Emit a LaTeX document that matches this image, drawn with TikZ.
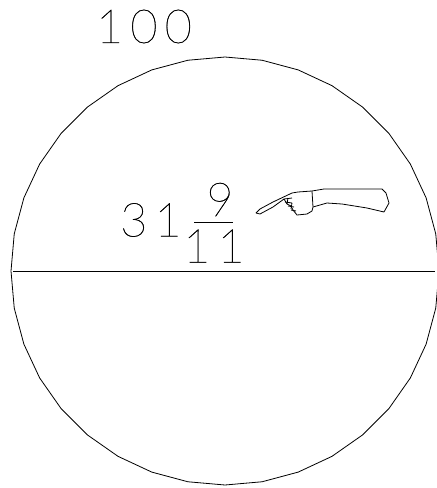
\documentclass[tikz,border=0pt]{standalone}
\usepackage{fontspec}
\usepackage{tikz}
\newfontfamily\strokefont[UprightFont={* Thin},LetterSpace=15,FakeBold=0.6]{Lato}
\begin{document}
\begin{tikzpicture}[
    x=1pt, y=-1pt,
    num/.style={inner sep=0pt, font=\strokefont\fontsize{47}{47}\selectfont},
    thinline/.style={line width=0.8pt}
  ]
    \useasboundingbox (0,0) rectangle (437,488);
    \draw[thinline, shift={(225,271)}] (0:214) \foreach \a in {10,20,...,350} {-- (\a:214)} -- cycle;
    \coordinate (left) at (13,271);
    \coordinate (right) at (435,271);
    \draw[thinline] (left) -- (right);
    \node[num] (top) at (144,26.5) {100};
    \node[num] (whole) at (151,220) {31};
    \node[num] (numer) at (220,199.5) {9};
    \node[num] (denom) at (214,246) {11};
    \draw[thinline] (194,222) -- (233,222);
    % hand
    \draw[thinline, line join=round] (256,213) -- (260,209) -- (273,202) -- (292,193) -- (298,192) -- (312,191)
      -- (324,189) -- (382,189) -- (386,193) -- (389,203) -- (384,212) -- (367,208)
      -- (342,204) -- (327,203) -- (313,207);
    \draw[thinline, line join=round] (312,191) -- (313,207) -- (312,211) -- (307,214) -- (297,215) -- (293,210)
      -- (291,206) -- (287,204) -- (284,199) -- (273,207) -- (260,214) -- (256,213);
    \draw[thinline] (284,199) -- (292,198) (285,202) -- (292,203) (288,206) -- (294,207) (291,210) -- (296,211)
      (288,198) -- (287,204) (292,203) -- (291,209);
  \end{tikzpicture}
\end{document}
